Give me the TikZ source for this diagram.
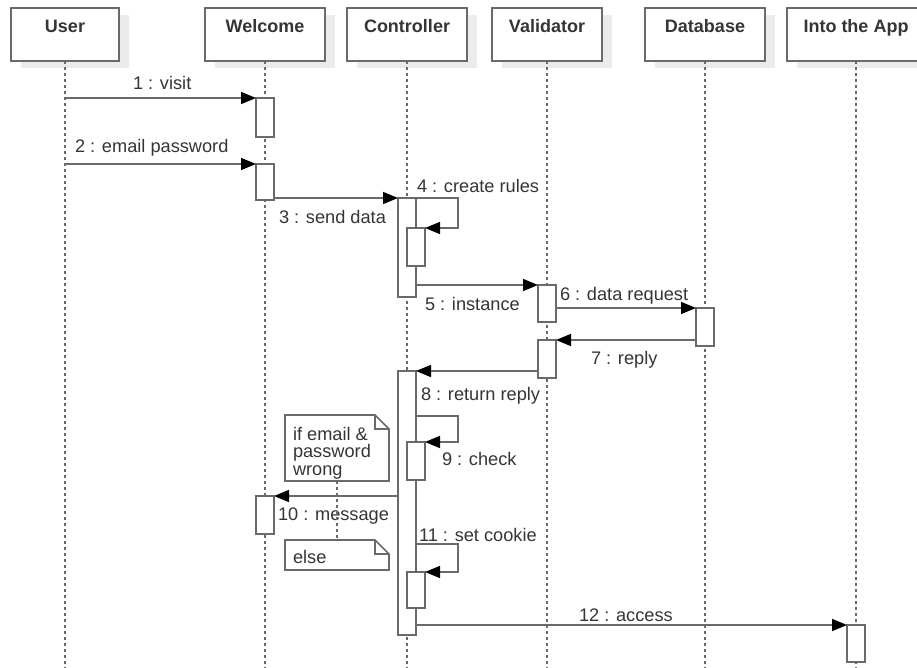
\documentclass[tikz,border=0pt]{standalone}
\usepackage{fontspec}
\setmainfont{Liberation Sans}
\usetikzlibrary{arrows.meta,calc,shadows}

\definecolor{edge}{HTML}{6A6A6A}
\definecolor{ink}{HTML}{353535}
\definecolor{shade}{HTML}{EBEBEB}

\tikzset{
  every node/.style={inner sep=0pt, outer sep=0pt},
  head/.style={draw=edge, line width=1.8pt, fill=white, rectangle, anchor=north,
    minimum height=53pt, text height=25pt, text depth=28pt,
    font=\fontsize{18}{21}\selectfont\bfseries, text=ink,
    drop shadow={shadow xshift=10pt, shadow yshift=-7pt, fill=shade, opacity=1}},
  life/.style={draw=edge, line width=1.6pt, dash pattern=on 3pt off 3pt},
  act/.style={draw=edge, line width=1.6pt, fill=white, minimum width=18pt, anchor=north},
  msg/.style={draw=edge, line width=1.6pt, -{Triangle[length=15pt,width=12pt,color=black]}},
  lbl/.style={font=\fontsize{18.2}{20}\selectfont, text=ink, anchor=base west},
  noteline/.style={draw=edge, line width=1.6pt, fill=white, line join=miter},
  notearea/.style={draw=none, anchor=north west, minimum width=104pt},
}

\begin{document}
\begin{tikzpicture}[x=1pt, y=-1pt]
  \clip (0,0) rectangle (917,668);
  \fill[white] (0,0) rectangle (917,668);

  % participants
  \node[head, minimum width=108pt] (user) at (65,8)  {User};
  \node[head, minimum width=120pt] (welc) at (265,8) {Welcome};
  \node[head, minimum width=120pt] (ctrl) at (407,8) {Controller};
  \node[head, minimum width=110pt] (vali) at (547,8) {Validator};
  \node[head, minimum width=120pt] (dbase) at (705,8) {Database};
  \node[head, minimum width=138pt] (app)  at (856,8) {Into the App};

  % lifelines
  \foreach \p in {user,welc,ctrl,vali,dbase,app}
    \draw[life] (\p.south) -- (\p.south |- 0,668);

  % activations
  \node[act, minimum height=39pt] (w1) at (265,98)  {};
  \node[act, minimum height=36pt] (w2) at (265,164) {};
  \node[act, minimum height=38pt] (w3) at (265,496) {};
  \node[act, minimum height=99pt] (c1) at (407,198) {};
  \node[act, minimum height=38pt] (c1n) at (416,228) {};
  \node[act, minimum height=264pt] (c2) at (407,371) {};
  \node[act, minimum height=38pt] (c9) at (416,442) {};
  \node[act, minimum height=36pt] (c11) at (416,572) {};
  \node[act, minimum height=37pt] (v1) at (547,285) {};
  \node[act, minimum height=38pt] (v2) at (547,340) {};
  \node[act, minimum height=38pt] (d1) at (705,308) {};
  \node[act, minimum height=37pt] (a1) at (856,625) {};

  % messages
  \draw[msg] (user.south |- w1.north) -- (w1.north west);
  \draw[msg] (user.south |- w2.north) -- (w2.north west);
  \draw[msg] (w2.east |- c1.north) -- (c1.north west);
  \draw[msg] (c1.north east) -- ++(42,0) |- (c1n.north east);
  \draw[msg] (c1.east |- v1.north) -- (v1.north west);
  \draw[msg] (v1.east |- d1.north) -- (d1.north west);
  \draw[msg] (d1.west |- v2.north) -- (v2.north east);
  \draw[msg] (v2.west |- c2.north) -- (c2.north east);
  \draw[msg] (c2.east |- 0,416) -- ++(42,0) |- (c9.north east);
  \draw[msg] (c2.west |- w3.north) -- (w3.north east);
  \draw[msg] (c2.east |- 0,544) -- ++(42,0) |- (c11.north east);
  \draw[msg] (c2.east |- a1.north) -- (a1.north west);

  % message labels
  \node[lbl] (l1)  at (133,90)  {1 : visit};
  \node[lbl] (l2)  at (75,153)  {2 : email password};
  \node[lbl] (l3)  at (279,224) {3 : send data};
  \node[lbl] (l4)  at (417,193) {4 : create rules};
  \node[lbl] (l5)  at (425,310) {5 : instance};
  \node[lbl] (l6)  at (560,300) {6 : data request};
  \node[lbl] (l7)  at (591,364) {7 : reply};
  \node[lbl] (l8)  at (421,400) {8 : return reply};
  \node[lbl] (l9)  at (442,465) {9 : check};
  \node[lbl] (l10) at (278,520) {10 : message};
  \node[lbl] (l11) at (419,541) {11 : set cookie};
  \node[lbl] (l12) at (579,621) {12 : access};

  % notes
  \node[notearea, minimum height=66pt] (n1) at (285,415) {};
  \node[notearea, minimum height=30pt] (n2) at (285,540) {};
  \draw[life] (n1.south) -- (n2.north);
  \foreach \n in {n1,n2} {
    \draw[noteline] (\n.north west) -- ($(\n.north east)+(-14pt,0)$)
      -- ($(\n.north east)+(0,-14pt)$) -- (\n.south east) -- (\n.south west) -- cycle;
    \draw[noteline, fill=none] ($(\n.north east)+(-14pt,0)$) -- ($(\n.north east)+(-14pt,-14pt)$)
      -- ($(\n.north east)+(0,-14pt)$);
  }
  \node[lbl] (t1a) at (293,440) {if email \&};
  \node[lbl] (t1b) at (293,457) {password};
  \node[lbl] (t1c) at (293,475) {wrong};
  \node[lbl] (t2)  at (293,563) {else};
\end{tikzpicture}
\end{document}
